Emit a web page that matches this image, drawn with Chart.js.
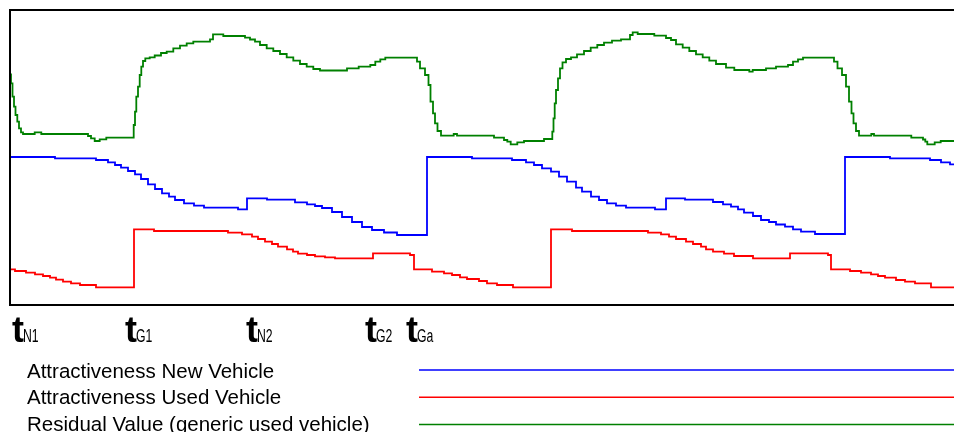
<!DOCTYPE html>
<html>
<head>
<meta charset="utf-8">
<script src="https://cdn.jsdelivr.net/npm/chart.js@4"></script>
<style>
    html, body { margin: 0; padding: 0; background: #fff; }
    #chart { display: block; }
</style>
</head>
<body>
<canvas id="chart" width="954" height="432"></canvas>
<script>
// each pair is [time, value]; the value holds until the next time
let newVehicle = [
    [0,148],[45,146.7],[86,145],[98,142.7],[105,140],[111,137.3],[118,134],[125,130.7],[131,126],[138,120.7],
    [145,116],[152,111.7],[159,108.3],[165,105],[174,101.7],[184,99.3],[194,97.3],[228,95.7],[237,106.7],[257,105.3],
    [285,102.7],[297,100.7],[305,99],[312,97],[322,93],[332,88],[342,83],[352,78],[362,75],[374,72.5],[387,70],
    [417,148],[462,146.7],[502,145],[516,142.7],[524,140],[532,136.7],[541,133.3],[549,128.3],[557,123.3],[566,117.3],
    [572,113.3],[581,108.3],[589,105],[597,101.7],[606,99.3],[616,97.3],[645,95.7],[656,106.7],[675,105.3],[703,103],
    [713,100.7],[721,98.3],[728,95.7],[734,92.3],[743,89],[751,85],[759,83],[766,80.5],[775,78.3],[783,75.7],[791,73.3],
    [805,71],[835,148],[880,146.7],[920,145],[931,142.7],[940,140.7],[944,140.7]
];

let usedVehicle = [
    [0,35.7],[5,34],[16,32.3],[25,30.7],[33,29],[40,27.3],[46,25.3],[53,23.3],[61,21.7],[70,20],[86,17.7],
    [124,75.7],[144,74],[218,72.3],[232,70.7],[242,68.3],[248,66],[255,63.3],[262,61],[268,58.3],[277,55.7],
    [283,53.3],[288,51.3],[297,50],[305,48.7],[315,47.7],[325,46.7],[363,51.7],[400,50],
    [404,35.7],[422,33.3],[434,31.7],[442,30],[450,27.7],[457,26],[469,24],[477,21.7],[487,20],[503,17.7],
    [541,75.7],[562,74],[638,72.3],[651,70.7],[659,68.3],[666,66],[676,63.3],[683,61],[691,58.3],[696,55.7],
    [703,53.3],[714,51.3],[724,49],[743,46.7],[780,51.7],[818,50],
    [821,35.7],[840,34],[851,32.3],[861,30.7],[868,29],[875,27.3],[886,25],[895,23.3],[905,21.7],[921,17.7],[944,17.7]
];

let residualValue = [
    [0,230.7],[1,221.7],[2.5,208.3],[4,198.3],[5.5,190],[7.3,183.3],[9,176.7],[11,172.7],[13,171],[24.7,172.7],
    [31.3,171],[78,169],[81,166.7],[84.7,164],[89.7,165.7],[96.3,167.3],[123.7,180],[125,193.3],[126.3,208.3],
    [128,218.3],[129.7,230],[131.3,238.3],[133,244],[135.3,246.7],[139.7,247.7],[144.7,249.5],[151,252],[156.7,253.3],
    [163.3,256.7],[170,259.3],[176.7,261.7],[183.3,263.3],[200,265.7],[203,270.7],[213.3,269],[235,267.3],[240,265.5],
    [245,263.3],[250,260],[256.7,256.7],[263.3,254],[270,251],[276.7,247.7],[283.3,244.3],[290,241],[296.7,238.3],
    [303.3,236],[310,234.5],[337,236.7],[348.7,238.3],[360.3,240],[365.3,243.3],[370.3,245.7],[375.3,247.3],
    [407,243.3],[410,236.7],[415,230],[418.5,220],[420.5,203.3],[423,191.7],[425,181.7],[427.5,174],[431,169.3],
    [443.7,171],[447,169.3],[484,167.3],[494,165],[497.3,163.3],[500.7,160.7],[507.3,162.7],[514,164],[534,166],
    [542.3,173.3],[543.5,186.7],[544.7,201.7],[546,215],[548,226.7],[550,236.7],[552.5,242.7],[556,246],[561,247.7],
    [567,250.7],[574,254],[580.7,257.3],[587.3,260],[594,262.3],[602,264.3],[611,265.7],[620,270],[622.7,272.7],
    [627.7,271],[644.3,269.3],[656,267],[661,265],[666,260.7],[672.7,257.3],[679.3,254],[686,250.7],[692.7,247.7],
    [699.3,244.3],[706,241],[716,237.3],[724.3,235],[739.3,233.3],[742.7,235],[756,236.7],[766,238.3],[778,240],
    [783,243.3],[788,245.7],[793,247.3],[824,243.3],[827.5,236.7],[832,230],[836,218.3],[839,203.3],[841.5,191.7],
    [843.5,181.7],[846,174],[849,169.3],[861.3,171],[864,169.3],[901.3,167.3],[913,165.5],[915.3,163.3],[917.3,160.7],
    [924.7,162.7],[930.7,164],[944,164]
];

let seriesNames = ["Attractiveness New Vehicle", "Attractiveness Used Vehicle", "Residual Value (generic used vehicle)"];
let seriesColors = ["#0000ff", "#ff0000", "#008000"];

// time marks under the plot: main letter, subscript, time
let timeMarks = [
    ["t", "N1", 2], ["t", "G1", 115], ["t", "N2", 236], ["t", "G2", 355], ["t", "Ga", 396]
];

function toPoints(pairs) {
    return pairs.map(p => ({ x: p[0], y: p[1] }));
}

let frameAndText = {
    id: "frameAndText",
    afterDraw(chart) {
        const ctx = chart.ctx;
        const area = chart.chartArea;
        const xScale = chart.scales.x;

        // frame (right edge runs off the picture)
        ctx.save();
        ctx.strokeStyle = "#000";
        ctx.lineWidth = 2;
        ctx.beginPath();
        ctx.moveTo(954, area.top);
        ctx.lineTo(area.left, area.top);
        ctx.lineTo(area.left, area.bottom);
        ctx.lineTo(954, area.bottom);
        ctx.stroke();

        // time marks
        ctx.fillStyle = "#000";
        ctx.textBaseline = "alphabetic";
        for (const m of timeMarks) {
            const x = xScale.getPixelForValue(m[2]);
            ctx.font = "bold 36px 'Liberation Sans', Arial, sans-serif";
            ctx.fillText(m[0], x, 342);
            const w = ctx.measureText(m[0]).width;
            ctx.save();
            ctx.translate(x + w - 1, 342);
            ctx.scale(0.68, 1);
            ctx.font = "18px 'Liberation Sans', Arial, sans-serif";
            ctx.fillText(m[1], 0, 0);
            ctx.restore();
        }

        // legend: names on the left, line samples on the right
        ctx.font = "20.5px 'Liberation Sans', Arial, sans-serif";
        chart.data.datasets.forEach((ds, i) => {
            ctx.fillStyle = "#000";
            ctx.fillText(ds.label, 27, 378 + i * 26.3);
            ctx.strokeStyle = ds.borderColor;
            ctx.lineWidth = 1.5;
            ctx.beginPath();
            ctx.moveTo(419, 370 + i * 27.2);
            ctx.lineTo(954, 370 + i * 27.2);
            ctx.stroke();
        });
        ctx.restore();
    }
};

let ctx = document.getElementById("chart").getContext("2d");

new Chart(ctx, {
    type: "line",
    data: {
        datasets: [newVehicle, usedVehicle, residualValue].map((s, i) => ({
            label: seriesNames[i],
            data: toPoints(s),
            borderColor: seriesColors[i],
            borderWidth: 1.8,
            pointRadius: 0,
            stepped: true,
            fill: false
        }))
    },
    options: {
        responsive: false,
        animation: false,
        layout: { padding: { left: 10, top: 10, right: 0, bottom: 127 } },
        scales: {
            x: { type: "linear", min: 0, max: 944, display: false },
            y: { min: 0, max: 295, display: false }
        },
        plugins: {
            legend: { display: false },
            tooltip: { enabled: false }
        }
    },
    plugins: [frameAndText]
});
</script>
</body>
</html>
